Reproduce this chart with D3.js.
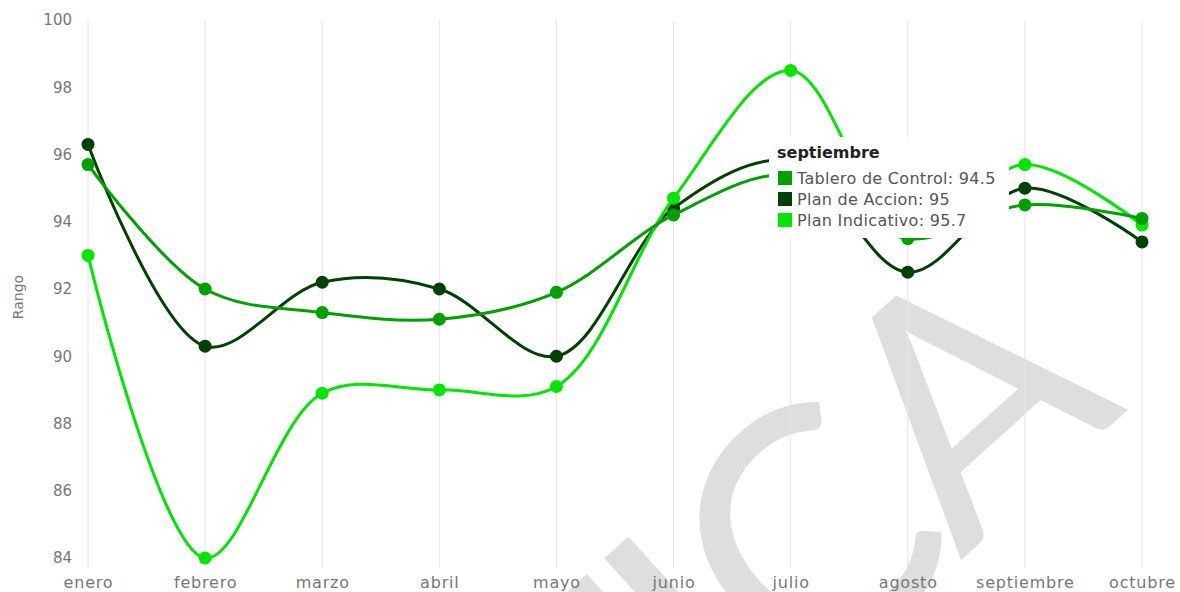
<!DOCTYPE html>
<html>
<head>
<meta charset="utf-8" />
<title></title>
<style>
html, body {
    padding: 0px;
    margin: 0px;
    background: #fff;
}
svg text {
    font-family: "DejaVu Sans", sans-serif;
}
</style>
</head>
<body>
<svg id="chart" width="1180" height="592"></svg>

<script src="https://cdn.jsdelivr.net/npm/d3@7"></script>
<script>
// data
var months = ["enero", "febrero", "marzo", "abril", "mayo", "junio", "julio", "agosto", "septiembre", "octubre"];
var tablero = [95.7, 92.0, 91.3, 91.1, 91.9, 94.2, 95.4, 93.5, 94.5, 94.1];
var accion = [96.3, 90.3, 92.2, 92.0, 90.0, 94.4, 95.8, 92.5, 95.0, 93.4];
var indicativo = [93.0, 84.0, 88.9, 89.0, 89.1, 94.7, 98.5, 93.6, 95.7, 93.9];
var seriesNames = ["Tablero de Control", "Plan de Accion", "Plan Indicativo"];
var yTicks = [84, 86, 88, 90, 92, 94, 96, 98, 100];
var tipMonth = "septiembre";

!(function(){
    "use strict"

    var colors = {"Tablero de Control": "#00a000", "Plan de Accion": "#004000", "Plan Indicativo": "#00e600"}
    var values = {"Tablero de Control": tablero, "Plan de Accion": accion, "Plan Indicativo": indicativo}

    var svg = d3.select("#chart")

    var x = d3.scalePoint().domain(months).range([88, 1142])
    var y = d3.scaleLinear().domain([84, 100]).range([558, 20])

    // watermark behind the plot
    svg.append("text")
        .attr("transform", "translate(1120,417) rotate(-42)")
        .attr("text-anchor", "end")
        .attr("font-size", 335)
        .attr("letter-spacing", -12)
        .attr("fill", "#dedede")
        .style("font-family", "Lato, sans-serif")
        .text("PRÁCTICA")

    // vertical grid
    svg.append("g").selectAll("line")
        .data(months)
        .enter().append("line")
        .attr("x1", function(d){ return x(d) })
        .attr("x2", function(d){ return x(d) })
        .attr("y1", 20)
        .attr("y2", 568)
        .attr("stroke", "#e6e6e6")
        .attr("stroke-width", 1)

    // y axis labels
    var yAxis = svg.append("g")
        .attr("transform", "translate(72,0)")
        .call(d3.axisLeft(y).tickValues(yTicks).tickSize(0).tickPadding(0))
    yAxis.select(".domain").remove()
    yAxis.selectAll("text")
        .attr("fill", "#777")
        .attr("font-size", 15)
        .style("font-family", "DejaVu Sans, sans-serif")

    // x axis labels
    var xAxis = svg.append("g")
        .attr("transform", "translate(0,577)")
        .call(d3.axisBottom(x).tickSize(0).tickPadding(0))
    xAxis.select(".domain").remove()
    xAxis.selectAll("text")
        .attr("fill", "#777")
        .attr("font-size", 16)
        .attr("letter-spacing", 0.8)
        .style("font-family", "DejaVu Sans, sans-serif")

    svg.append("text")
        .attr("transform", "translate(23,297) rotate(-90)")
        .attr("text-anchor", "middle")
        .attr("fill", "#777")
        .attr("font-size", 14)
        .text("Rango")

    var line = d3.line()
        .x(function(d, i){ return x(months[i]) })
        .y(function(d){ return y(d) })
        .curve(d3.curveCatmullRom.alpha(0.5))

    var order = ["Plan de Accion", "Plan Indicativo", "Tablero de Control"]

    order.forEach(function(name){
        var g = svg.append("g")
        g.append("path")
            .attr("d", line(values[name]))
            .attr("fill", "none")
            .attr("stroke", colors[name])
            .attr("stroke-width", 3)
        g.selectAll("circle")
            .data(values[name])
            .enter().append("circle")
            .attr("cx", function(d, i){ return x(months[i]) })
            .attr("cy", function(d){ return y(d) })
            .attr("r", 6.5)
            .attr("fill", colors[name])
    })

    // tooltip for septiembre
    var ti = months.indexOf(tipMonth)
    var tip = svg.append("g").attr("transform", "translate(769,137)")
    tip.append("rect")
        .attr("width", 240)
        .attr("height", 101)
        .attr("rx", 4)
        .attr("fill", "#fff")
    tip.append("text")
        .attr("x", 8)
        .attr("y", 21)
        .attr("font-size", 16)
        .attr("font-weight", "bold")
        .attr("fill", "#222")
        .text(tipMonth)
    seriesNames.forEach(function(name, k){
        tip.append("rect")
            .attr("x", 9)
            .attr("y", 34 + k * 21)
            .attr("width", 14)
            .attr("height", 14)
            .attr("fill", colors[name])
        tip.append("text")
            .attr("x", 28)
            .attr("y", 47 + k * 21)
            .attr("font-size", 16)
            .attr("letter-spacing", 0.3)
            .attr("fill", "#555")
            .text(name + ": " + values[name][ti])
    })

}());
</script>
</body>
</html>
